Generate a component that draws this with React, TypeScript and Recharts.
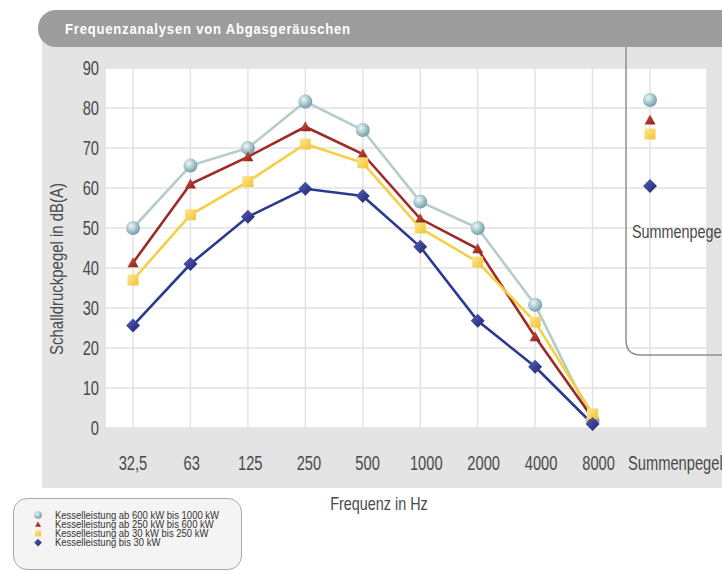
import React from 'react'
import { ComposedChart, Line, XAxis, YAxis, CartesianGrid } from 'recharts'

// Frequenzbänder (Hz) + Summenpegel-Spalte
const categories = ['32,5', '63', '125', '250', '500', '1000', '2000', '4000', '8000', 'Summenpegel']

// Schalldruckpegel in dB(A) je Band
const kw600bis1000 = [50, 65.6, 70, 81.6, 74.5, 56.6, 50, 30.8, 1.8]
const kw250bis600 = [41.3, 61, 67.8, 75.3, 68.5, 52.3, 44.8, 22.8, 2.5]
const kw30bis250 = [37, 53.3, 61.6, 71, 66.3, 50, 41.5, 26.5, 3.5]
const kwBis30 = [25.6, 41, 52.8, 59.8, 58, 45.3, 26.8, 15.3, 1]

// Summenpegel je Kesselleistung (gleiche Reihenfolge)
const summenpegel = [82, 77, 73.5, 60.5]

const seriesNames = [
  'Kesselleistung ab 600 kW bis 1000 kW',
  'Kesselleistung ab 250 kW bis 600 kW',
  'Kesselleistung ab 30 kW bis 250 kW',
  'Kesselleistung bis 30 kW',
]

const yTicks = [0, 10, 20, 30, 40, 50, 60, 70, 80, 90]

const W = 722
const H = 573
const FONT = "'Liberation Sans', Arial, sans-serif"
const PANEL = '#e4e4e4'
const TEXT = '#4a4a4a'

const LINE_COLORS = ['#b5cdc9', '#9c2a26', '#f5cf45', '#2c3990']

const data = categories.map((cat, i) => ({
  cat,
  a: kw600bis1000[i] ?? null,
  b: kw250bis600[i] ?? null,
  c: kw30bis250[i] ?? null,
  d: kwBis30[i] ?? null,
  aSum: i === categories.length - 1 ? summenpegel[0] : null,
  bSum: i === categories.length - 1 ? summenpegel[1] : null,
  cSum: i === categories.length - 1 ? summenpegel[2] : null,
  dSum: i === categories.length - 1 ? summenpegel[3] : null,
}))

const ok = (p: any) => typeof p.cx === 'number' && typeof p.cy === 'number' && !isNaN(p.cy)

// schmale Schrift: Liberation Sans horizontal gestaucht
function NarrowText({ x, y, sx, size, anchor = 'start', rotate = 0, fill = TEXT, weight, spacing, children }: any) {
  return (
    <text
      transform={`translate(${x},${y}) rotate(${rotate}) scale(${sx},1)`}
      textAnchor={anchor}
      dominantBaseline="central"
      fontFamily={FONT}
      fontSize={size}
      fontWeight={weight}
      letterSpacing={spacing}
      fill={fill}
    >
      {children}
    </text>
  )
}

function Marker({ kind, x, y, s = 1 }: { kind: number; x: number; y: number; s?: number }) {
  if (kind === 0) return <circle cx={x} cy={y} r={7 * s} fill="url(#gBall)" />
  if (kind === 1) {
    const w = 5.5 * s
    return <path d={`M${x} ${y - 5.5 * s} L${x + w} ${y + 4.5 * s} L${x - w} ${y + 4.5 * s} Z`} fill="url(#gTri)" />
  }
  if (kind === 2) {
    const h = 5.5 * s
    return <rect x={x - h} y={y - h} width={h * 2} height={h * 2} fill="url(#gSq)" />
  }
  const d = 7 * s
  return <path d={`M${x} ${y - d} L${x + d} ${y} L${x} ${y + d} L${x - d} ${y} Z`} fill="url(#gDia)" />
}

const dotFor = (kind: number) => (p: any) => {
  const key = `${kind}-${p.index}`
  if (!ok(p)) return <g key={key} />
  return (
    <g key={key}>
      <Marker kind={kind} x={p.cx} y={p.cy} />
    </g>
  )
}

function XTick(props: any) {
  const { x, payload, index } = props
  const last = index === categories.length - 1
  return (
    <NarrowText x={last ? x - 22 : x + Math.min(index, 5) * 1.2} y={463} sx={0.7} size={21} anchor={last ? 'start' : 'middle'}>
      {payload.value}
    </NarrowText>
  )
}

function YTick(props: any) {
  const { y, payload } = props
  return (
    <NarrowText x={99} y={y} sx={0.7} size={21} anchor="end">
      {payload.value}
    </NarrowText>
  )
}

export default function App() {
  return (
    <div style={{ position: 'absolute', left: 0, top: 0, width: W, height: H, overflow: 'hidden', background: '#fff', fontFamily: FONT }}>
      <svg width={0} height={0} style={{ position: 'absolute' }}>
        <defs>
          <radialGradient id="gBall" cx="38%" cy="35%" r="70%">
            <stop offset="0%" stopColor="#eef6f7" />
            <stop offset="55%" stopColor="#a3c3ca" />
            <stop offset="100%" stopColor="#6e97a2" />
          </radialGradient>
          <linearGradient id="gTri" x1="0" y1="0" x2="1" y2="1">
            <stop offset="0%" stopColor="#d0553f" />
            <stop offset="100%" stopColor="#8a1e18" />
          </linearGradient>
          <linearGradient id="gSq" x1="0" y1="0" x2="1" y2="1">
            <stop offset="0%" stopColor="#fde896" />
            <stop offset="100%" stopColor="#f1c232" />
          </linearGradient>
          <linearGradient id="gDia" x1="0" y1="0" x2="1" y2="1">
            <stop offset="0%" stopColor="#5661b8" />
            <stop offset="100%" stopColor="#1e246c" />
          </linearGradient>
        </defs>
      </svg>

      {/* grauer Hintergrund + Titelbalken */}
      <div style={{ position: 'absolute', left: 42, top: 30, width: 700, height: 458, background: PANEL }} />
      <div
        style={{
          position: 'absolute', left: 38, top: 10, width: 700, height: 37,
          background: '#9d9d9d', borderRadius: '18px 0 0 18px',
        }}
      />

      <div style={{ position: 'absolute', left: 0, top: 0 }}>
        <ComposedChart width={W} height={H} data={data} margin={{ top: 68, right: 15, bottom: 85, left: 42 }}>
          <CartesianGrid stroke="#e2e2e2" strokeWidth={1.5} fill="#fff" />
          <XAxis
            dataKey="cat"
            interval={0}
            axisLine={false}
            tickLine={false}
            height={60}
            padding={{ left: 28, right: 57 }}
            tick={<XTick />}
          />
          <YAxis
            domain={[0, 90]}
            ticks={yTicks}
            interval={0}
            width={63}
            axisLine={false}
            tickLine={false}
            tick={<YTick />}
          />
          {['a', 'b', 'c', 'd'].map((k, i) => (
            <Line
              key={k}
              dataKey={k}
              type="linear"
              stroke={LINE_COLORS[i]}
              strokeWidth={2.6}
              dot={dotFor(i)}
              activeDot={false}
              isAnimationActive={false}
            />
          ))}
          {['aSum', 'bSum', 'cSum', 'dSum'].map((k, i) => (
            <Line
              key={k}
              dataKey={k}
              stroke="none"
              dot={dotFor(i)}
              activeDot={false}
              isAnimationActive={false}
            />
          ))}
        </ComposedChart>
      </div>

      {/* Titel, Summenpegel-Rahmen rechts, Achsentitel */}
      <svg width={W} height={H} style={{ position: 'absolute', left: 0, top: 0, pointerEvents: 'none' }}>
        <NarrowText x={65} y={29} sx={0.9} size={14.5} weight="bold" spacing={0.9} fill="#fff">
          Frequenzanalysen von Abgasgeräuschen
        </NarrowText>
        <path d="M626 47 L626 340 Q626 355 641 355 L740 355" fill="none" stroke="#8f8f8f" strokeWidth={1.5} />
        <NarrowText x={632} y={231} sx={0.8} size={18}>
          Summenpegel
        </NarrowText>
        <NarrowText x={57} y={269} sx={0.83} size={18} rotate={-90} anchor="middle">
          Schalldruckpegel in dB(A)
        </NarrowText>
        <NarrowText x={379} y={503} sx={0.8} size={18} anchor="middle">
          Frequenz in Hz
        </NarrowText>
      </svg>

      {/* Legende */}
      <div
        style={{
          position: 'absolute', left: 13, top: 498, width: 229, height: 72, boxSizing: 'border-box',
          border: '1.5px solid #a9a9a9', borderRadius: 14, background: '#f4f4f4',
        }}
      >
        <svg width={226} height={69} style={{ position: 'absolute', left: 0, top: 0 }}>
          {seriesNames.map((name, i) => (
            <g key={name}>
              <Marker kind={i} x={24} y={16 + i * 9.2} s={0.55} />
              <NarrowText x={41} y={16 + i * 9.2} sx={0.88} size={10.8} fill="#333">
                {name}
              </NarrowText>
            </g>
          ))}
        </svg>
      </div>
    </div>
  )
}
